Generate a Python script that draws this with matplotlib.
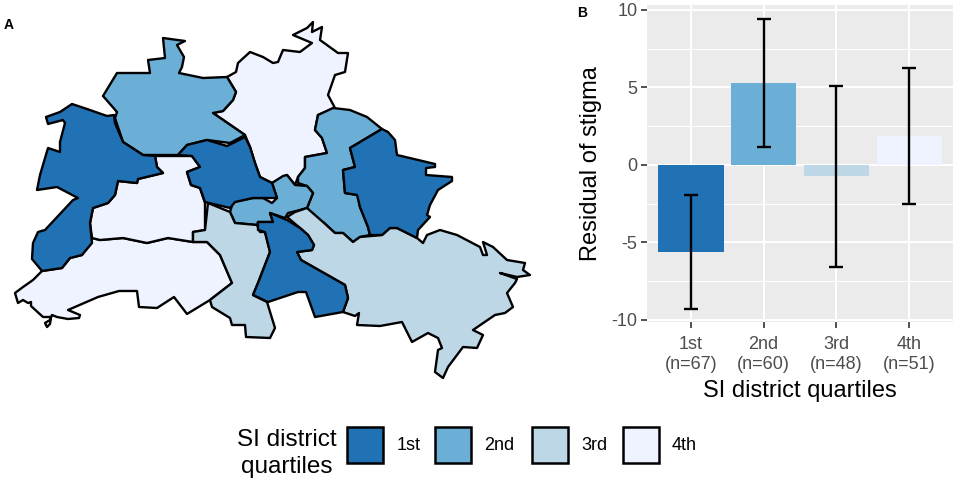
import matplotlib
matplotlib.use("Agg")
import matplotlib.pyplot as plt
from matplotlib.patches import Polygon, Rectangle

plt.rcParams['font.family'] = ['Liberation Sans', 'DejaVu Sans']

# --- Colors ---
COLOR_Q1 = "#2171b5"
COLOR_Q2 = "#6baed6"
COLOR_Q3 = "#bdd7e7"
COLOR_Q4 = "#eff3ff"
PANEL_BG = "#ebebeb"
TICK_COLOR = "#4d4d4d"

# --- Data: bars ---
quartiles = ["1st", "2nd", "3rd", "4th"]
counts = [67, 60, 48, 51]
residuals = [-5.63, 5.27, -0.75, 1.87]
err_low = [-9.31, 1.18, -6.6, -2.5]
err_high = [-1.98, 9.4, 5.12, 6.24]
bar_colors = [COLOR_Q1, COLOR_Q2, COLOR_Q3, COLOR_Q4]

# --- Data: district outlines (pixel coords) ---
steglitz = [(42,271),(62,268),(70,258),(82,255),(92,238),(100,240),(123,238),(147,243),(168,238),(193,242),
            (207,242),(220,255),(232,283),(210,300),(187,314),(174,297),(157,308),(139,307),(137,291),(119,291),
            (98,297),(68,310),(80,315),(79,318),(68,319),(57,317),(52,315),(50,320),(45,323),(47,327),(50,324),
            (51,317),(43,317),(31,306),(31,302),(28,303),(23,300),(18,303),(15,293),(23,287),(33,280)]
charlottenburg = [(155,156),(192,156),(200,167),(187,172),(191,185),(200,188),(205,203),(205,230),(193,232),
                  (193,242),(168,238),(147,243),(123,238),(100,240),(92,238),(90,223),(93,208),(108,203),
                  (115,195),(118,181),(137,183),(138,179),(163,173),(157,167)]
pankow = [(227,77),(236,72),(238,63),(250,52),(263,57),(273,63),(278,62),(283,50),(300,52),(312,43),(293,35),
          (307,28),(313,22),(312,32),(322,27),(320,40),(338,53),(348,53),(345,72),(335,75),(328,95),(335,108),
          (318,115),(315,130),(322,138),(327,153),(305,157),(305,168),(298,177),(295,185),(287,175),(272,183),
          (260,177),(255,163),(250,147),(245,135),(213,113),(223,111),(233,100),(236,92)]
reinickendorf = [(163,38),(185,41),(177,45),(184,57),(182,67),(179,73),(203,78),(227,77),(236,92),(233,100),
                 (223,111),(213,113),(245,135),(230,143),(207,140),(187,145),(178,155),(143,155),(123,142),
                 (115,118),(117,112),(103,96),(117,73),(150,73),(148,60),(165,58)]
lichtenberg = [(333,108),(350,110),(367,117),(382,129),(350,148),(355,167),(343,170),(345,193),(358,195),
               (360,207),(368,227),(370,235),(360,237),(353,242),(343,233),(335,233),(323,222),(313,220),
               (307,208),(313,193),(307,186),(298,183),(298,177),(305,168),(305,157),(327,153),(322,138),
               (315,130),(318,115)]
marzahn = [(382,129),(388,132),(395,140),(397,155),(435,164),(435,167),(426,168),(426,175),(452,177),(452,181),
           (438,190),(430,205),(427,215),(430,217),(418,230),(417,238),(397,228),(390,228),(382,235),(370,235),
           (368,227),(360,207),(357,195),(345,193),(343,170),(355,167),(350,148)]
kreuzberg = [(233,202),(253,198),(263,198),(272,203),(277,198),(272,183),(283,176),(287,175),(295,185),(307,186),
             (313,193),(307,208),(300,210),(288,213),(285,218),(270,213),(273,222),(258,222),(257,225),(235,223),
             (230,212)]
tempelhof = [(208,203),(230,212),(235,223),(257,225),(260,232),(265,232),(270,252),(258,283),(253,295),(267,302),
             (275,328),(270,338),(246,337),(245,325),(232,325),(230,318),(212,307),(210,300),(232,283),(220,255),
             (207,242),(193,242),(193,232),(205,230)]
treptow = [(287,217),(295,212),(307,208),(323,222),(335,233),(343,233),(353,242),(360,237),(382,235),(390,228),
           (397,228),(417,238),(423,243),(427,235),(440,230),(457,235),(480,247),(483,255),(487,255),(483,242),
           (493,247),(507,260),(525,263),(523,270),(530,275),(517,277),(500,273),(517,279),(515,283),(507,293),
           (513,307),(505,313),(495,315),(473,330),(483,335),(477,348),(463,347),(448,367),(443,378),(435,372),
           (438,350),(442,348),(438,338),(428,333),(412,342),(402,322),(380,326),(357,325),(359,313),(355,316),
           (343,312),(348,298),(345,285),(301,260),(297,252),(312,250),(314,245),(308,235),(300,228)]
neukoelln = [(270,213),(287,220),(300,228),(308,235),(314,245),(312,250),(297,252),(301,260),(345,285),(348,298),
             (343,312),(315,317),(306,292),(298,292),(268,302),(253,295),(258,283),(270,252),(265,232),(258,230),
             (258,222),(273,222)]
mitte = [(187,145),(207,140),(227,146),(245,137),(250,147),(255,163),(260,177),(272,183),(277,198),(253,198),
         (235,202),(230,208),(205,202),(200,188),(191,185),(187,172),(200,167),(192,156),(178,155)]
spandau = [(46,117),(60,112),(72,104),(87,109),(107,116),(114,115),(115,123),(123,142),(143,155),(155,156),
           (157,167),(163,173),(138,179),(137,183),(118,181),(115,195),(108,203),(93,208),(90,223),(92,243),
           (82,255),(70,258),(62,268),(42,271),(32,259),(33,243),(38,232),(45,230),(73,200),(78,198),(57,187),
           (37,190),(40,175),(48,148),(60,152),(60,142),(65,123),(63,120),(48,124)]

districts = [(steglitz, COLOR_Q4), (charlottenburg, COLOR_Q4), (pankow, COLOR_Q4),
             (reinickendorf, COLOR_Q2), (lichtenberg, COLOR_Q2), (kreuzberg, COLOR_Q2),
             (tempelhof, COLOR_Q3), (treptow, COLOR_Q3),
             (neukoelln, COLOR_Q1), (mitte, COLOR_Q1), (spandau, COLOR_Q1), (marzahn, COLOR_Q1)]

# --- Legend layout (pixels) ---
legend_box_x = [347, 435, 532, 623]
legend_text_x = [397, 484, 581, 672]

fig = plt.figure(figsize=(9.57, 4.83), dpi=100)

# Map and legend share a full figure axes in pixel coords
ax_map = fig.add_axes([0, 0, 1, 1])
ax_map.set_xlim(0, 957)
ax_map.set_ylim(483, 0)
ax_map.axis('off')

for outline, color in districts:
    ax_map.add_patch(Polygon(outline, closed=True, facecolor=color, edgecolor='black',
                             linewidth=1.7, joinstyle='round'))

ax_map.text(4, 25, "A", fontsize=10, fontweight='bold', va='center', ha='left')
ax_map.text(577, 13, "B", fontsize=10, fontweight='bold', va='center', ha='left')

ax_map.text(287, 440, "SI district", fontsize=17.5, ha='center', va='center')
ax_map.text(287, 467, "quartiles", fontsize=17.5, ha='center', va='center')
for box_x, text_x, label, color in zip(legend_box_x, legend_text_x, quartiles, bar_colors):
    ax_map.add_patch(Rectangle((box_x, 427), 36, 36, facecolor=color, edgecolor='black', linewidth=1.8))
    ax_map.text(text_x, 446, label, fontsize=13, ha='left', va='center')

# Bar panel
ax = fig.add_axes([647 / 957, 1 - 322 / 483, 306 / 957, 317 / 483])
ax.set_facecolor(PANEL_BG)
for spine in ax.spines.values():
    spine.set_visible(False)

positions = list(range(1, len(quartiles) + 1))
ax.bar(positions, residuals, width=0.9, color=bar_colors, zorder=2)
for pos, low, high, res in zip(positions, err_low, err_high, residuals):
    ax.errorbar(pos, res, yerr=[[res - low], [high - res]], color='black', elinewidth=1.7,
                capsize=5.3, capthick=1.7, zorder=3)

ax.set_xlim(0.4, 4.6)
ax.set_ylim(-10.15, 10.32)
ax.set_xticks(positions)
ax.set_xticklabels([f"{q}\n(n={n})" for q, n in zip(quartiles, counts)], linespacing=1.25)
ax.set_yticks([-10, -5, 0, 5, 10])
ax.set_yticklabels(["-10", "-5", "0", "5", "10"])
ax.set_yticks([-7.5, -2.5, 2.5, 7.5], minor=True)
ax.tick_params(axis='both', which='major', labelsize=13, labelcolor=TICK_COLOR, color='#333333',
               length=4, width=1.2, pad=3)
ax.tick_params(axis='x', which='major', pad=6)
ax.tick_params(axis='y', which='minor', length=0)
ax.grid(which='major', color='white', linewidth=1.4, zorder=1)
ax.grid(which='minor', axis='y', color='white', linewidth=0.7, zorder=1)
ax.set_axisbelow(True)

ax.set_xlabel("SI district quartiles", fontsize=17, labelpad=5)
ax.set_ylabel("Residual of stigma", fontsize=17, labelpad=7)

fig.savefig("out.png", dpi=100)
